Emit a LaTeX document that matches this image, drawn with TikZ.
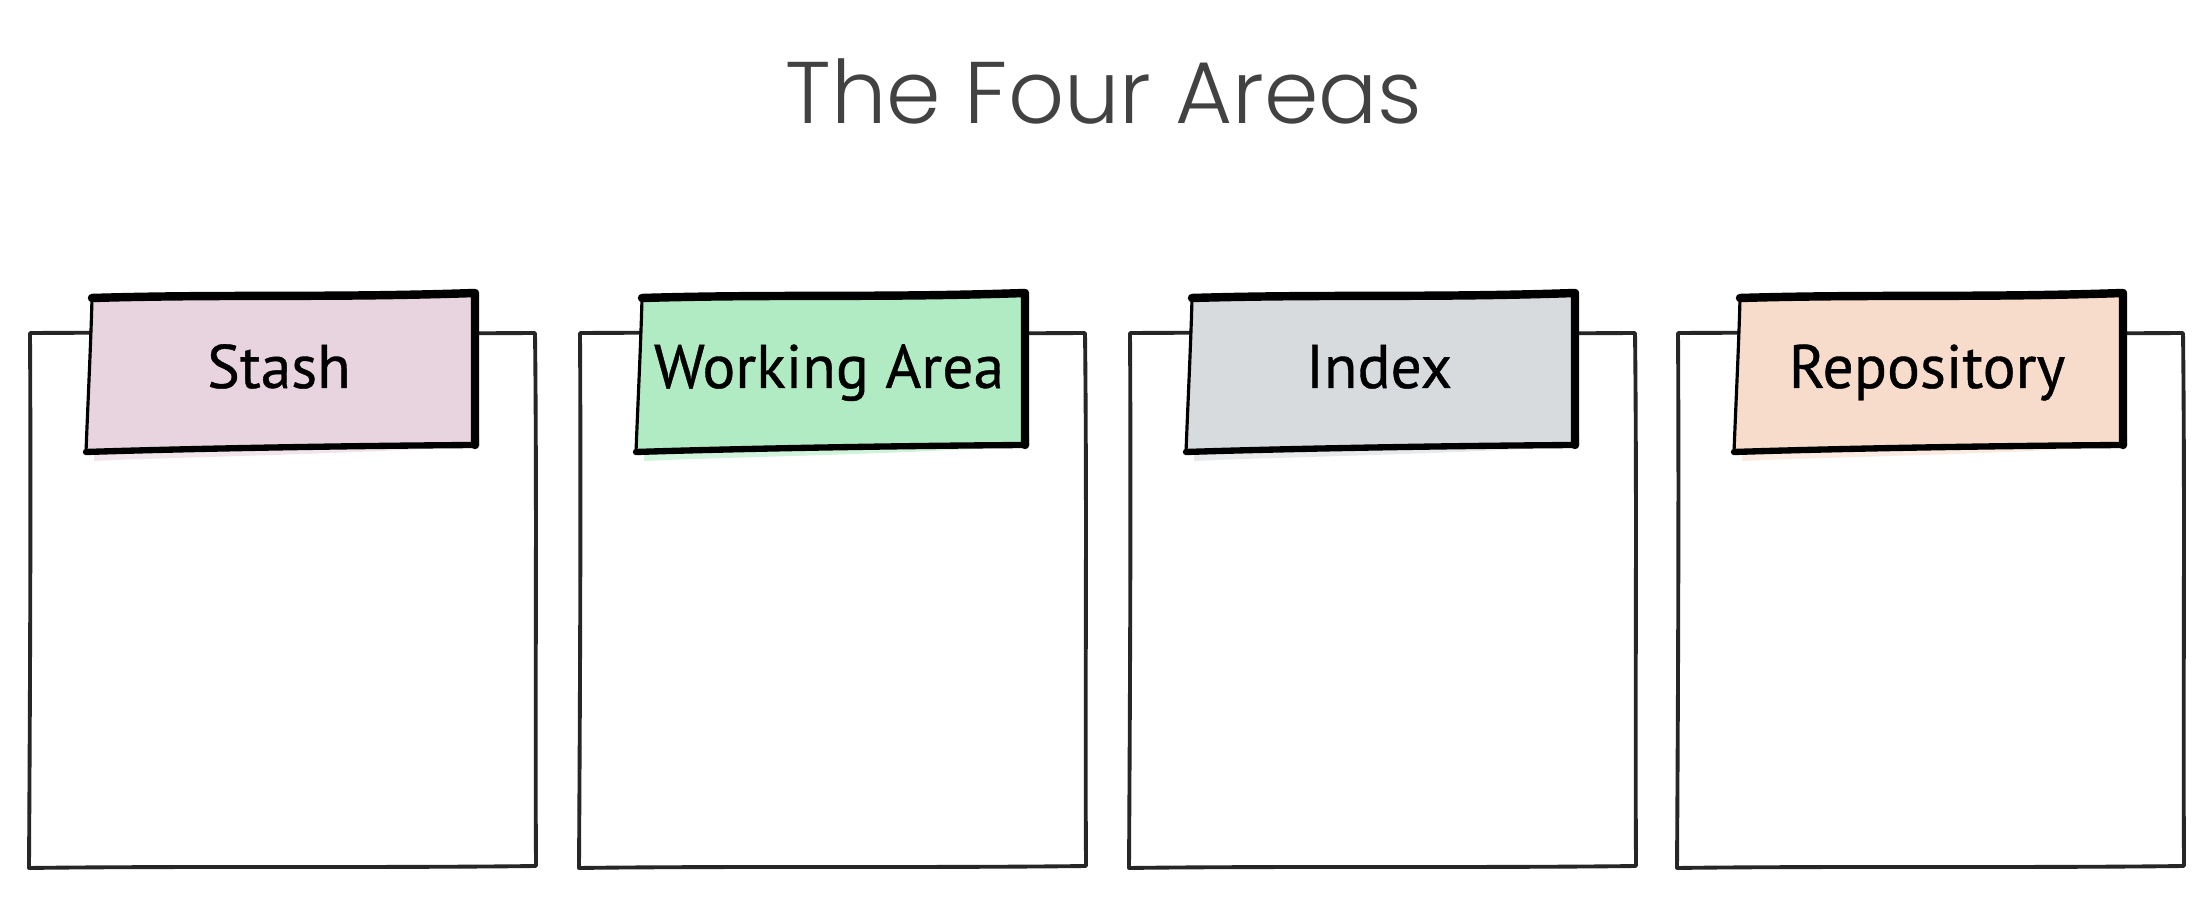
\documentclass[tikz,border=0pt]{standalone}
\usepackage{fontspec}
\setmainfont{PT Sans}
\newfontfamily\tagfont[FakeBold=0.6]{PT Sans}
\newfontfamily\titlefont{Poppins Light}
\definecolor{titlegray}{HTML}{424242}
\definecolor{boxgray}{HTML}{262626}
\definecolor{stashpink}{HTML}{E8D4DE}
\definecolor{workgreen}{HTML}{B1EBC4}
\definecolor{indexgray}{HTML}{D8DBDE}
\definecolor{repopeach}{HTML}{F8DCCB}
\tikzset{
  boxline/.style={draw=boxgray, line width=1.1pt, line join=round, line cap=round},
  penthick/.style={draw=black, line width=2.4pt, line join=round, line cap=round},
  penmid/.style={draw=black, line width=1.8pt, line join=round, line cap=round},
  penthin/.style={draw=black, line width=0.9pt, line join=round, line cap=round},
  tagtext/.style={font=\tagfont\fontsize{17.5}{20}\selectfont, text=black, inner sep=0pt, anchor=base},
  titletext/.style={font=\titlefont\fontsize{24.9}{30}\selectfont, text=titlegray, inner sep=0pt, anchor=base}
}
\begin{document}
\begin{tikzpicture}[x=0.01cm, y=-0.01cm]
\useasboundingbox (0,0) rectangle (2212,922);
\fill[white] (0,0) rectangle (2212,922);

% heading
\node[titletext] (title) at (1104,124) {The Four Areas};

% one column per area: outlined box with a coloured tag on its top edge
\foreach \x/\c/\t/\n in {28/stashpink/Stash/stash,
                         578/workgreen/Working Area/working,
                         1128/indexgray/Index/index,
                         1676/repopeach/Repository/repo}{
  % open box
  \draw[boxline] ({\x+2},333) .. controls ({\x+200},332) and ({\x+350},334) .. ({\x+507},333)
      .. controls ({\x+509},500) and ({\x+507},700) .. ({\x+508},866)
      .. controls ({\x+350},868) and ({\x+150},866) .. ({\x+1},868)
      .. controls ({\x+2},700) and ({\x+3},500) .. cycle;
  % tag paper, with a little colour bleeding past the pen line
  \fill[\c, opacity=0.6] ({\x+70},300) -- ({\x+440},290) -- ({\x+452},446)
      .. controls ({\x+300},455) and ({\x+150},457) .. ({\x+66},461) -- cycle;
  \fill[\c] ({\x+64},298) .. controls ({\x+200},294) and ({\x+300},298) .. ({\x+447},293)
      -- ({\x+447},445)
      .. controls ({\x+300},446) and ({\x+150},449) .. ({\x+58},452)
      .. controls ({\x+60},400) and ({\x+63},340) .. cycle;
  % pen strokes of the tag
  \draw[penthick] ({\x+64},298) .. controls ({\x+200},294) and ({\x+300},298) .. ({\x+447},293)
      -- ({\x+447},445);
  \draw[penmid] ({\x+447},445) .. controls ({\x+300},446) and ({\x+150},449) .. ({\x+58},452);
  \draw[penthin] ({\x+58},452) .. controls ({\x+60},400) and ({\x+63},340) .. ({\x+64},298);
  % label
  \node[tagtext] (\n) at ({\x+251},388) {\t};
}
\end{tikzpicture}
\end{document}
